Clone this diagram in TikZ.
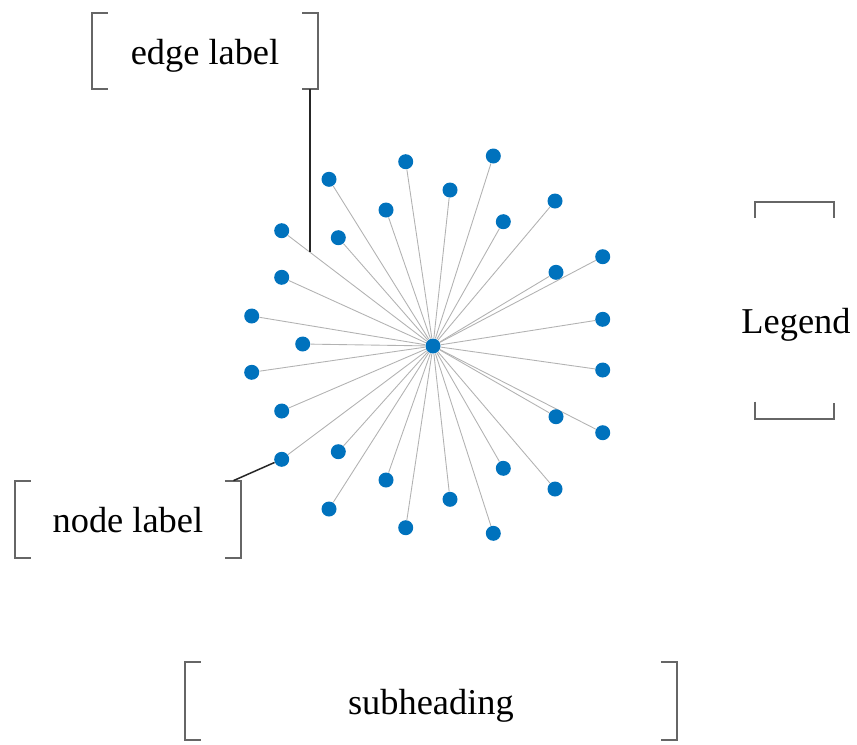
\documentclass[tikz,border=0pt]{standalone}
\usepackage{fontspec}
\setmainfont{Liberation Serif}
\usetikzlibrary{calc}
\definecolor{dotblue}{RGB}{0,114,189}
\newcommand{\sidebrackets}[1]{%
  \draw[bracket] ([xshift=0.32cm]#1.north west) -| (#1.south west) -- ++(0.32cm,0);
  \draw[bracket] ([xshift=-0.32cm]#1.north east) -| (#1.south east) -- ++(-0.32cm,0);}
\begin{document}
\begin{tikzpicture}[x=0.02cm, y=-0.02cm,
    leaf/.style={circle, fill=dotblue, inner sep=0pt, minimum size=0.3cm},
    spoke/.style={black!30, line width=0.5pt},
    bracket/.style={black!60, line width=1.1pt},
    leader/.style={black!85, line width=0.85pt},
    tag/.style={font=\fontsize{20.7pt}{25pt}\selectfont, inner sep=0pt, text height=0.54cm, text depth=0pt}]
\useasboundingbox (0,0) rectangle (857,744);
% star graph
\node[leaf] (hub) at (433,346) {};
\foreach \x/\y [count=\i] in {405.7/161.7, 493.3/156, 555/201, 602.7/256.7, 602.7/319.3, 602.7/370,
    602.7/432.7, 555/489, 493.3/533.3, 405.7/527.7, 329/509, 281.7/459.3, 281.7/411, 251.7/372.3,
    251.7/316, 281.7/277.3, 281.7/230.7, 329/179.3}{
  \node[leaf] (o\i) at (\x,\y) {};
  \draw[spoke] (hub) -- (o\i);
}
\foreach \x/\y [count=\i] in {450/190, 503.3/221.7, 556/272.3, 556/416.7, 503.3/468.3, 450/499.3,
    386/480, 338.3/451.7, 302.7/344, 338.3/237.7, 386/210}{
  \node[leaf] (n\i) at (\x,\y) {};
  \draw[spoke] (hub) -- (n\i);
}
% labels
\node[tag, minimum width=4.52cm, minimum height=1.52cm] (elabel) at (205,51) {edge label};
\sidebrackets{elabel}
\node[tag, minimum width=4.51cm, minimum height=1.53cm] (nlabel) at (127.9,519.2) {node label};
\sidebrackets{nlabel}
\node[tag, minimum width=9.83cm, minimum height=1.53cm] (subhead) at (430.9,701) {subheading};
\sidebrackets{subhead}
\node[tag, anchor=base] (legend) at (796,333.3) {Legend};
\draw[bracket] ([shift={(-41.3,-115.6)}]legend.base) |- ([shift={(38,-131.6)}]legend.base) -- ++(0,-0.32cm);
\draw[bracket] ([shift={(-41.3,68.4)}]legend.base) |- ([shift={(38,86)}]legend.base) -- ++(0,0.32cm);
% leaders
\coordinate (elbl) at ($(o17)!0.186!(hub)$);
\draw[leader] (elbl) -- (elbl |- elabel.south);
\draw[leader] ([xshift=-0.15cm]nlabel.north east) -- (o12);
\end{tikzpicture}
\end{document}
